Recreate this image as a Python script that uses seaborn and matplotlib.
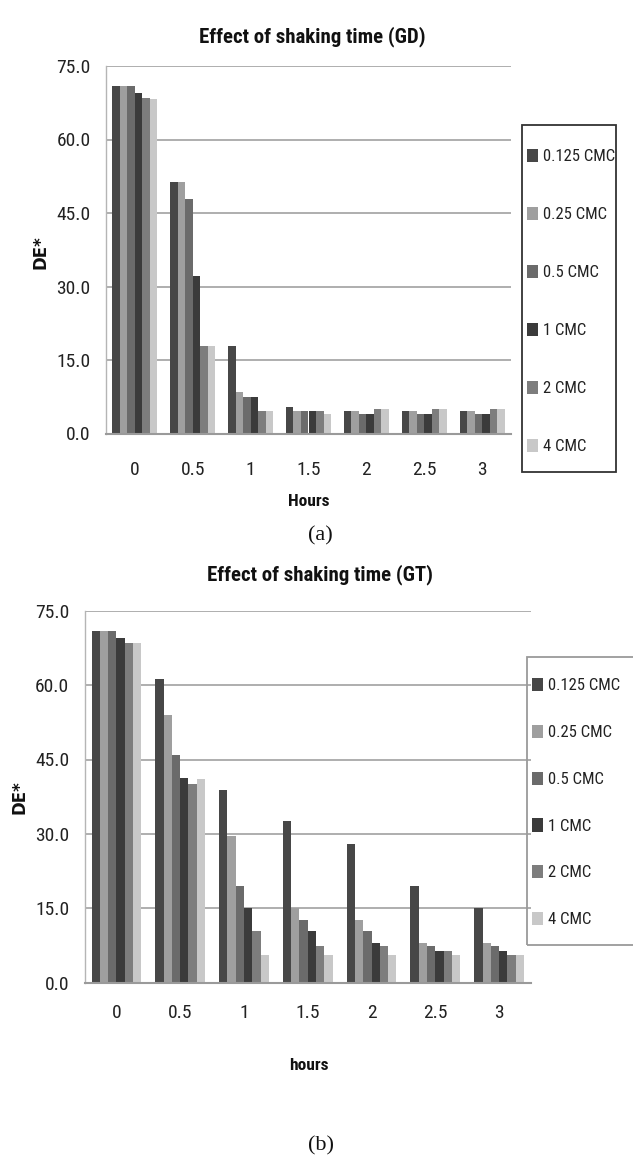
import matplotlib
matplotlib.use("Agg")
import matplotlib.pyplot as plt
from matplotlib import font_manager as fm
from matplotlib.patches import Rectangle
import seaborn as sns
import pandas as pd

# ---------------- data ----------------
hours = ["0", "0.5", "1", "1.5", "2", "2.5", "3"]
concentrations = ["0.125 CMC", "0.25 CMC", "0.5 CMC", "1 CMC", "2 CMC", "4 CMC"]

gd_0125 = [71.0, 51.4, 17.8, 5.4, 4.6, 4.6, 4.6]
gd_025 = [71.0, 51.4, 8.4, 4.6, 4.6, 4.6, 4.6]
gd_05 = [71.0, 47.9, 7.5, 4.6, 3.9, 3.9, 3.9]
gd_1 = [69.5, 32.2, 7.5, 4.6, 3.9, 3.9, 3.9]
gd_2 = [68.5, 17.8, 4.6, 4.6, 5.0, 5.0, 5.0]
gd_4 = [68.2, 17.8, 4.6, 3.9, 5.0, 5.0, 5.0]

gt_0125 = [71.0, 61.3, 38.9, 32.7, 28.0, 19.4, 15.0]
gt_025 = [71.0, 53.9, 29.6, 15.0, 12.7, 8.0, 8.0]
gt_05 = [71.0, 45.9, 19.4, 12.7, 10.4, 7.3, 7.3]
gt_1 = [69.4, 41.2, 15.0, 10.4, 8.0, 6.3, 6.3]
gt_2 = [68.5, 40.0, 10.4, 7.3, 7.3, 6.3, 5.6]
gt_4 = [68.5, 41.0, 5.6, 5.6, 5.6, 5.6, 5.6]

yticks = [0, 15, 30, 45, 60, 75]

colors = ["#474747", "#9f9f9f", "#6b6b6b", "#3b3b3b", "#7d7d7d", "#c8c8c8"]


def long_df(series):
    rows = []
    for c, vals in zip(concentrations, series):
        for h, v in zip(hours, vals):
            rows.append({"hours": h, "DE": v, "conc": c})
    return pd.DataFrame(rows)


df_gd = long_df([gd_0125, gd_025, gd_05, gd_1, gd_2, gd_4])
df_gt = long_df([gt_0125, gt_025, gt_05, gt_1, gt_2, gt_4])

# ---------------- fonts ----------------
sns.set_style("white")

entries = fm.fontManager.ttflist
names = {f.name for f in entries}
FAMILY, STRETCH, SCALE = "Liberation Sans", "normal", 0.84
for cand in ["Liberation Sans Narrow", "DejaVu Sans Condensed", "Roboto Condensed",
             "Open Sans Condensed", "Noto Sans Condensed", "Arial Narrow"]:
    if cand in names:
        FAMILY, STRETCH, SCALE = cand, "normal", 1.0
        break
else:
    for f in entries:
        if f.name in ("DejaVu Sans", "Noto Sans", "Open Sans", "Roboto", "Liberation Sans") \
                and ("condensed" in str(f.stretch) or "Condensed" in f.fname
                     or "Narrow" in f.fname):
            FAMILY, STRETCH, SCALE = f.name, "condensed", 0.95
            break

plt.rcParams["font.family"] = [FAMILY, "Liberation Sans", "DejaVu Sans"]
plt.rcParams["font.stretch"] = STRETCH


def fs(x):
    return x * SCALE


W, H = 633, 1158
fig = plt.figure(figsize=(W / 100, H / 100), dpi=100)


def fx(px):
    return px / W


def fy(py):
    return 1 - py / H


def make_axes(left, right, top, bottom):
    return fig.add_axes([fx(left), fy(bottom), fx(right - left), (bottom - top) / H])


GRID = "#a8a8a8"


def style_axes(ax, xpad):
    ax.set_ylim(0, 75)
    ax.set_xlim(-0.5, 6.5)
    ax.set_yticks(yticks)
    ax.set_yticklabels([f"{t:.1f}" for t in yticks])
    ax.yaxis.grid(True, color=GRID, lw=1.3)
    ax.xaxis.grid(False)
    ax.set_axisbelow(True)
    for s in ["top", "right"]:
        ax.spines[s].set_visible(False)
    ax.spines["left"].set_color("#b5b5b5")
    ax.spines["left"].set_linewidth(1.0)
    ax.spines["bottom"].set_color("#9a9a9a")
    ax.spines["bottom"].set_linewidth(1.5)
    ax.tick_params(axis="y", length=5, width=1, color="#b5b5b5", pad=6,
                   labelsize=fs(14), labelcolor="#222222")
    ax.tick_params(axis="x", length=0, pad=xpad, labelsize=fs(14), labelcolor="#222222")
    ax.set_xlabel("")
    ax.set_ylabel("")


def add_legend(ax, box, first_y, spacing_ls):
    x0, y0, x1, y1, ec = box
    sns.move_legend(ax, "upper left", bbox_to_anchor=(fx(x0 + 5), fy(first_y - 9)),
                    bbox_transform=fig.transFigure, frameon=False, title=None,
                    borderpad=0, borderaxespad=0, handlelength=0.65,
                    handleheight=0.85, handletextpad=0.3, labelspacing=spacing_ls,
                    fontsize=fs(12))
    for t in ax.get_legend().get_texts():
        t.set_color("#222222")
    fig.patches.append(Rectangle((fx(x0), fy(y1)), fx(x1 - x0), (y1 - y0) / H,
                                 transform=fig.transFigure, fill=False,
                                 edgecolor=ec, lw=1.3, zorder=5))


# ---------------- top chart (GD) ----------------
ax1 = make_axes(106, 511, 66, 433.5)
sns.barplot(data=df_gd, x="hours", y="DE", hue="conc", order=hours,
            hue_order=concentrations, palette=colors, width=0.78,
            saturation=1, linewidth=0, ax=ax1)
style_axes(ax1, xpad=20)
add_legend(ax1, (522, 125, 616, 472, "#333333"), 158, 2.55)

fig.text(fx(312), fy(37), "Effect of shaking time (GD)", ha="center", va="center",
         fontsize=fs(15), fontweight="bold", color="#111111")
fig.text(fx(41), fy(252), "DE*", ha="center", va="center", rotation=90,
         fontsize=12, fontweight="bold", family="DejaVu Sans", color="#111111")
fig.text(fx(309), fy(501), "Hours", ha="center", va="center",
         fontsize=fs(12.5), fontweight="bold", color="#111111")
fig.text(fx(320), fy(536), "(a)", ha="center", va="center",
         fontsize=16, family=["Liberation Serif", "DejaVu Serif"], color="#111111")

# ---------------- bottom chart (GT) ----------------
ax2 = make_axes(84.5, 531, 610.7, 982.7)
sns.barplot(data=df_gt, x="hours", y="DE", hue="conc", order=hours,
            hue_order=concentrations, palette=colors, width=0.78,
            saturation=1, linewidth=0, ax=ax2)
style_axes(ax2, xpad=15)
add_legend(ax2, (527, 657, 700, 945, "#9a9a9a"), 687, 1.88)

fig.text(fx(320), fy(575), "Effect of shaking time (GT)", ha="center", va="center",
         fontsize=fs(15), fontweight="bold", color="#111111")
fig.text(fx(19), fy(797), "DE*", ha="center", va="center", rotation=90,
         fontsize=12, fontweight="bold", family="DejaVu Sans", color="#111111")
fig.text(fx(309), fy(1066), "hours", ha="center", va="center",
         fontsize=fs(12.5), fontweight="bold", color="#111111")
fig.text(fx(321), fy(1146), "(b)", ha="center", va="center",
         fontsize=16, family=["Liberation Serif", "DejaVu Serif"], color="#111111")

fig.savefig("out.png", dpi=100)
